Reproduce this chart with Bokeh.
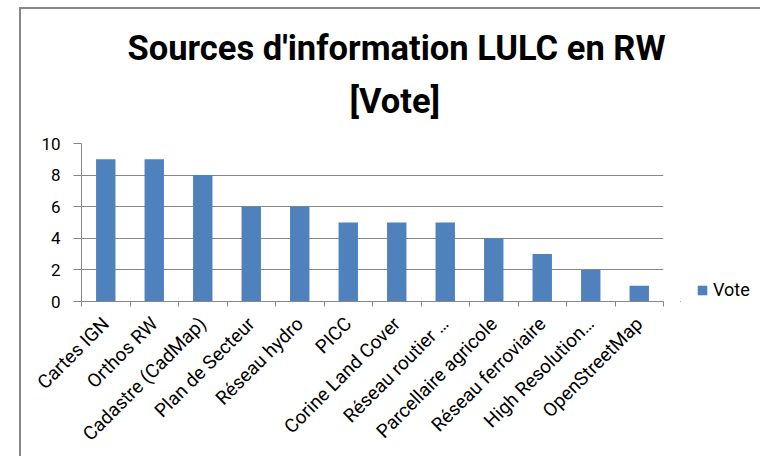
import numpy as np
from bokeh.plotting import figure
from bokeh.layouts import row
from bokeh.models import Range1d, FixedTicker, Title, ColumnDataSource
from bokeh.embed import file_html
from bokeh.resources import INLINE

# ---- data ----
categories = ["Cartes IGN", "Orthos RW", "Cadastre (CadMap)", "Plan de Secteur",
              "Réseau hydro", "PICC", "Corine Land Cover", "Réseau routier …",
              "Parcellaire agricole", "Réseau ferroviaire", "High Resolution…",
              "OpenStreetMap"]
votes = [9, 9, 8, 6, 6, 5, 5, 5, 4, 3, 2, 1]
y_ticks = [0, 2, 4, 6, 8, 10]
title_lines = ["Sources d'information LULC en RW", "[Vote]"]
series_name = "Vote"

# ---- styles ----
BAR = "#4F81BD"
GRID = "#868686"
FONT = "Roboto"
H = 456

n = len(categories)
positions = list(range(1, n + 1))
boundaries = [i + 0.5 for i in range(0, n + 1)]

src = ColumnDataSource(dict(x=positions, top=votes, cat=categories))

p = figure(width=680, height=H, output_backend="svg", toolbar_location=None,
           title=None,
           x_range=Range1d(0.5, n + 0.5), y_range=Range1d(0, max(y_ticks)),
           min_border_left=81, min_border_right=17, min_border_top=143,
           min_border_bottom=H - 301)
p.outline_line_color = None
p.background_fill_color = "white"
p.border_fill_color = None

p.vbar(x="x", top="top", width=0.4, source=src, fill_color=BAR, line_color=None)

xa = p.xaxis[0]
xa.ticker = FixedTicker(ticks=positions, minor_ticks=boundaries)
xa.major_label_overrides = {pos: cat for pos, cat in zip(positions, categories)}
xa.major_label_orientation = np.pi / 4
xa.major_tick_line_color = None
xa.major_tick_out = 0
xa.major_tick_in = 0
xa.minor_tick_line_color = GRID
xa.minor_tick_out = 5
xa.minor_tick_in = 0
xa.major_label_standoff = 14
xa.axis_line_color = GRID
xa.major_label_text_font = FONT
xa.major_label_text_font_size = "19px"
xa.major_label_text_color = "#000000"

ya = p.yaxis[0]
ya.ticker = FixedTicker(ticks=y_ticks)
ya.axis_line_color = GRID
ya.major_tick_line_color = GRID
ya.major_tick_out = 8
ya.major_tick_in = 0
ya.minor_tick_line_color = None
ya.major_label_standoff = 13
ya.major_label_text_font = FONT
ya.major_label_text_font_size = "17px"
ya.major_label_text_color = "#000000"

p.xgrid.grid_line_color = None
p.ygrid.grid_line_color = GRID
p.ygrid.grid_line_width = 1

# title: spacer closest to the frame, then second line, then first line
spacer = Title(text=" ", align="left", standoff=0, text_font=FONT,
               text_font_size="12.5px")
t2 = Title(text=title_lines[1], align="left", offset=268, standoff=11,
           text_font=FONT, text_font_style="bold", text_font_size="34.5px",
           text_color="#000000")
t1 = Title(text=title_lines[0], align="left", offset=46, standoff=11,
           text_font=FONT, text_font_style="bold", text_font_size="34.5px",
           text_color="#000000")
p.add_layout(spacer, "above")
p.add_layout(t2, "above")
p.add_layout(t1, "above")

# ---- legend panel (separate canvas so the legend is not clipped) ----
# same series, with ranges that keep its bars entirely out of view;
# only the legend entry is visible here
pl = figure(width=80, height=H, output_backend="svg", toolbar_location=None,
            title=None, x_range=Range1d(1000, 1080), y_range=Range1d(1000, 1010),
            x_axis_location=None, y_axis_location=None,
            min_border_left=0, min_border_right=0, min_border_top=0,
            min_border_bottom=0)
pl.outline_line_color = None
pl.background_fill_color = None
pl.border_fill_color = None
pl.xgrid.visible = False
pl.ygrid.visible = False
pl.vbar(x="x", top="top", width=0.4, source=src,
        fill_color=BAR, line_color=None, legend_label=series_name)
lg = pl.legend[0]
lg.location = (16, 1)
lg.padding = 0
lg.margin = 0
lg.spacing = 0
lg.label_standoff = 5
lg.glyph_width = 12
lg.glyph_height = 12
lg.border_line_color = None
lg.background_fill_alpha = 0
lg.label_text_font = FONT
lg.label_text_font_size = "18px"
lg.label_text_color = "#000000"

layout = row(p, pl)
# chart-area border (left and top edges visible in the window)
layout.styles = {
    "background-image": "linear-gradient(#868686, #868686), linear-gradient(#868686, #868686)",
    "background-size": "2px 100%, 100% 2px",
    "background-position": "19px 7px, 19px 7px",
    "background-repeat": "no-repeat",
}

open("out.html", "w").write(file_html(layout, INLINE))
